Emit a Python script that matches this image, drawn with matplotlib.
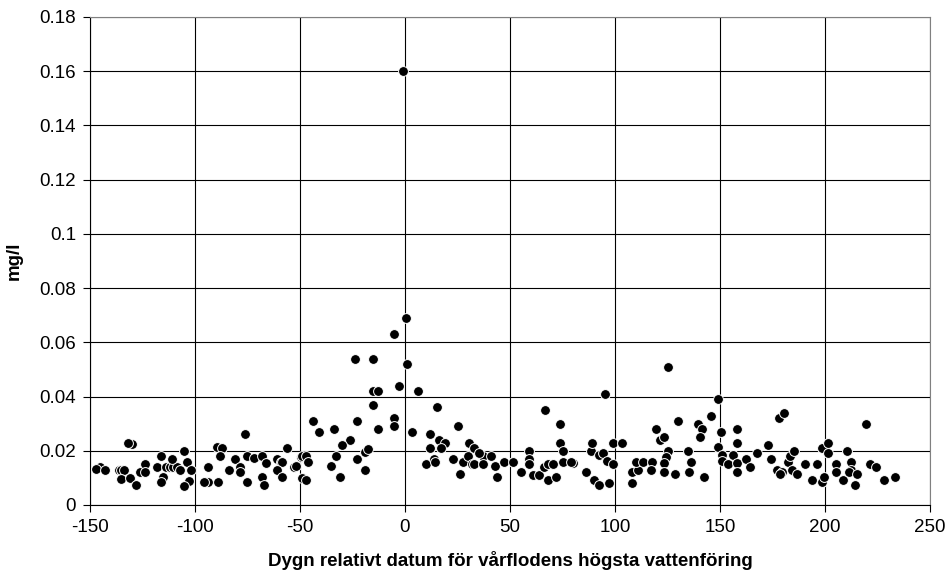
import numpy as np
import matplotlib.pyplot as plt

plt.rcParams['font.family'] = ['Liberation Sans', 'DejaVu Sans']

# dygn relativt vårflodstoppen, halt (mg/l)
dygn = [-145, -147, -143, -136, -135, -134, -135, -131, -128, -130, -132, -126, -124, -124,
        -118, -116, -115, -116, -114, -112, -110.5, -108.6, -111, -107, -105, -104, -102, -103,
        -105, -94, -94, -95.5, -89, -89.7, -87, -88, -84, -81, -78.5, -78.5, -76, -75, -75,
        -72, -68, -68, -67, -66, -61, -59, -58.5, -61, -58.7, -56, -53, -49.5, -48.6,
        0.3, -5, -24, -15, 1.1, -3, 6, -15, -13, -15, 15, -44, -41, -34, -23, -5, -5, -13,
        3.5, 25, 12, 16, 19, 12, 17, -26, -30, -33, -35, -31, -23, -19, -19, -17.5,
        -49, -47, -46, -52, -49, -47, 10, 14, 14.5, 23, 27.5, 26, 30, 30.6, 32.7,
        32, 33, 37, 37, 41, 35, 43, 44, 47.3, 51.6, -1,
        55, 59, 59, 59, 61, 64, 66, 68, 70.3, 68, 72, 66.7, 74, 74, 75, 75, 80, 79,
        86, 88.6, 89, 90, 92.4, 92.4, 94.4, 96, 99, 95, 97, 99.2, 103.2, 108, 108, 111,
        110, 113.5, 117.5, 117, 119.4, 121.4, 123.5, 125, 125.4, 124.3, 123.5, 123.5, 128.6,
        130, 134.6, 136, 135.4, 139.4, 141.3, 140.5, 142.4, 145.6, 149.2, 150.5,
        149, 151, 151, 154, 156.3, 158.2, 158.2, 158.2, 158.2, 162.2, 164.3, 167.5, 173,
        174.3, 177, 179.4, 178.6, 178, 180.5, 182.4, 183.5, 185.2, 184.3, 186.7, 190.5,
        194, 196.3, 198.4, 199.7, 198.7, 201.3, 201.6, 205.2, 205.2, 208.4, 210.5, 212.4,
        212.4, 211.4, 214.3, 215.4, 219.4, 221.4, 224.3, 228.3, 233.3]
halt = [0.014, 0.0133, 0.013, 0.013, 0.013, 0.013, 0.0096, 0.010, 0.0074, 0.0225, 0.023,
        0.012, 0.015, 0.012, 0.014, 0.018, 0.0104, 0.0083, 0.014, 0.014, 0.014, 0.014, 0.017,
        0.013, 0.020, 0.016, 0.013, 0.009, 0.007, 0.014, 0.0085, 0.0085, 0.0085, 0.0215,
        0.021, 0.018, 0.013, 0.017, 0.014, 0.012, 0.026, 0.018, 0.0085, 0.0173, 0.018,
        0.0104, 0.0074, 0.0155, 0.017, 0.016, 0.016, 0.013, 0.0103, 0.021, 0.014, 0.0177,
        0.010,
        0.069, 0.063, 0.054, 0.054, 0.052, 0.044, 0.042, 0.042, 0.042, 0.037, 0.036, 0.031,
        0.027, 0.028, 0.031, 0.032, 0.029, 0.028, 0.027, 0.029, 0.026, 0.024, 0.023, 0.021,
        0.021, 0.024, 0.022, 0.018, 0.0143, 0.0102, 0.017, 0.013, 0.0197, 0.0205,
        0.018, 0.018, 0.016, 0.0145, 0.0098, 0.0092, 0.015, 0.017, 0.016, 0.017, 0.016,
        0.0113, 0.018, 0.023, 0.021, 0.015, 0.015, 0.018, 0.015, 0.018, 0.019, 0.0144,
        0.0102, 0.016, 0.016, 0.160,
        0.012, 0.020, 0.017, 0.015, 0.011, 0.011, 0.014, 0.015, 0.015, 0.0092, 0.0102,
        0.035, 0.030, 0.023, 0.020, 0.016, 0.0156, 0.016, 0.012, 0.020, 0.023, 0.0092,
        0.0074, 0.0184, 0.0193, 0.0163, 0.0151, 0.041, 0.0082, 0.023, 0.023, 0.0082, 0.012,
        0.013, 0.016, 0.016, 0.016, 0.013, 0.028, 0.024, 0.025, 0.051, 0.020, 0.0176,
        0.0154, 0.0123, 0.0113, 0.031, 0.020, 0.016, 0.012, 0.030, 0.028, 0.025, 0.0102,
        0.033, 0.039, 0.027,
        0.0215, 0.0184, 0.0163, 0.015, 0.0184, 0.023, 0.028, 0.0154, 0.0123, 0.017, 0.014,
        0.0193, 0.022, 0.017, 0.013, 0.012, 0.0113, 0.032, 0.034, 0.016, 0.018, 0.020,
        0.013, 0.0113, 0.015, 0.0092, 0.015, 0.0084, 0.0102, 0.021, 0.023, 0.0193, 0.015,
        0.012, 0.0092, 0.020, 0.016, 0.013, 0.012, 0.0074, 0.0113, 0.030, 0.015, 0.014,
        0.0092, 0.0102]

x_ticks = np.arange(-150, 251, 50)
y_ticks = np.arange(0, 0.181, 0.02)
y_labels = ['0', '0.02', '0.04', '0.06', '0.08', '0.1', '0.12', '0.14', '0.16', '0.18']

fig = plt.figure(figsize=(9.5, 5.76), dpi=100)
ax = fig.add_axes([0.0947, 0.1233, 0.8843, 0.8472])

ax.scatter(dygn, halt, s=50, c='black', edgecolors='white', linewidths=0.7, zorder=3)

ax.set_xlim(-150, 250)
ax.set_ylim(0, 0.18)
ax.set_xticks(x_ticks)
ax.set_xticklabels([str(t) for t in x_ticks])
ax.set_yticks(y_ticks)
ax.set_yticklabels(y_labels)
ax.grid(True, color='black', linewidth=0.8)
ax.set_axisbelow(True)
for side in ['top', 'right']:
    ax.spines[side].set_color('#808080')
    ax.spines[side].set_linewidth(0.8)
for side in ['left', 'bottom']:
    ax.spines[side].set_linewidth(0.8)
ax.tick_params(direction='out', length=5, width=0.8, labelsize=13.5, pad=5)

ax.set_xlabel('Dygn relativt datum för vårflodens högsta vattenföring',
              fontsize=13.5, fontweight='bold', labelpad=11)
ax.set_ylabel('mg/l', fontsize=13.5, fontweight='bold', labelpad=12)

fig.savefig('out.png', dpi=100)
